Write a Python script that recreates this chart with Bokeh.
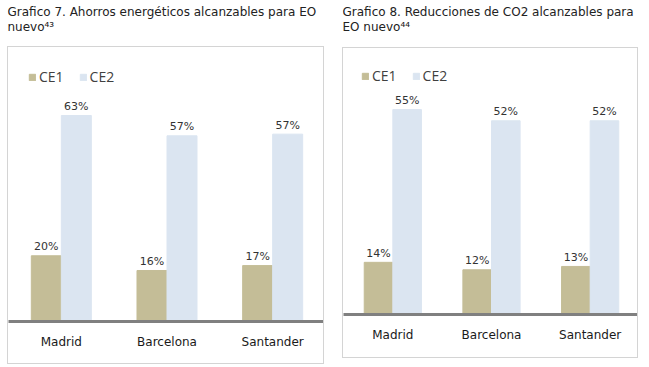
from bokeh.plotting import figure
from bokeh.models import FactorRange, Range1d, ColumnDataSource
from bokeh.transform import dodge
from bokeh.layouts import row, column
from bokeh.embed import file_html
from bokeh.resources import INLINE
from bokeh.core.properties import value

# ---- data ----
cities = ["Madrid", "Barcelona", "Santander"]
series = ["CE1", "CE2"]
ahorro_ce1 = [20.1, 15.6, 17.1]
ahorro_ce2 = [63.0, 56.8, 57.3]
co2_ce1 = [14.0, 12.0, 12.9]
co2_ce2 = [55.0, 52.0, 52.0]
title_7 = "Grafico 7. Ahorros energéticos alcanzables para EO\nnuevo⁴³"
title_8 = "Grafico 8. Reducciones de CO2 alcanzables para\nEO nuevo⁴⁴"
colors = ["#c4bd97", "#dbe5f1"]


def make_chart(title, ce1, ce2, w, h_title, h_chart, ymax, leg_margin, bw, bottom):
    t = figure(width=w, height=h_title, x_range=Range1d(0, 1), y_range=Range1d(0, 1),
               toolbar_location=None, output_backend="svg", min_border=0,
               x_axis_location=None, y_axis_location=None, outline_line_color=None)
    t.grid.visible = False
    t.text(x=[0], y=[1], text=[title], text_font=value("DejaVu Sans"),
           text_font_size="12px", text_baseline="top", text_align="left",
           text_color="#222222", text_line_height=1.1, y_offset=1)

    p = figure(width=w - 2, height=h_chart - 2, x_range=FactorRange(factors=cities),
               y_range=Range1d(0, ymax), toolbar_location=None, output_backend="svg",
               min_border_left=0, min_border_right=0, min_border_top=0,
               min_border_bottom=bottom, y_axis_location=None, outline_line_color=None)
    p.styles = {"border": "1px solid #d4d4d4"}
    src = ColumnDataSource(dict(city=cities, ce1=ce1, ce2=ce2,
                                l1=[f"{v:.0f}%" for v in ce1],
                                l2=[f"{v:.0f}%" for v in ce2]))
    for i, (col, lab) in enumerate([("ce1", "l1"), ("ce2", "l2")]):
        off = (-0.5 + i) * bw
        p.vbar(x=dodge("city", off, range=p.x_range), top=col, width=bw, source=src,
               fill_color=colors[i], line_color=colors[i], legend_label=series[i])
        p.text(x=dodge("city", off, range=p.x_range), y=col, text=lab, source=src,
               text_align="center", text_baseline="alphabetic", y_offset=-9,
               text_font=value("DejaVu Sans"), text_font_size="11px",
               text_color="#333333")
    p.xgrid.visible = False
    p.ygrid.visible = False
    ax = p.xaxis
    ax.axis_line_color = "#808080"
    ax.axis_line_width = 3
    ax.major_tick_line_color = None
    ax.minor_tick_line_color = None
    ax.major_tick_out = 0
    ax.major_tick_in = 0
    ax.major_label_text_font = "DejaVu Sans"
    ax.major_label_text_font_size = "12px"
    ax.major_label_text_color = "#1a1a1a"
    ax.major_label_standoff = 13
    lg = p.legend[0]
    lg.orientation = "horizontal"
    lg.location = "top_left"
    lg.margin = leg_margin
    lg.padding = 0
    lg.spacing = 15
    lg.label_standoff = 3
    lg.glyph_width = 8
    lg.glyph_height = 8
    lg.border_line_color = None
    lg.background_fill_alpha = 0
    lg.label_text_font = "Open Sans"
    lg.label_text_font_size = "14px"
    lg.label_text_color = "#404040"
    return column(t, p)


left = make_chart(title_7, ahorro_ce1, ahorro_ce2, 319, 43, 320, 83.8, 20, 0.284, 44)
right = make_chart(title_8, co2_ce1, co2_ce2, 298, 44, 313, 71.4, 18, 0.29, 45)
root = row(left, right, spacing=16)
root.styles = {"margin-top": "3px", "margin-left": "7px"}

open("out.html", "w").write(file_html(root, INLINE))
